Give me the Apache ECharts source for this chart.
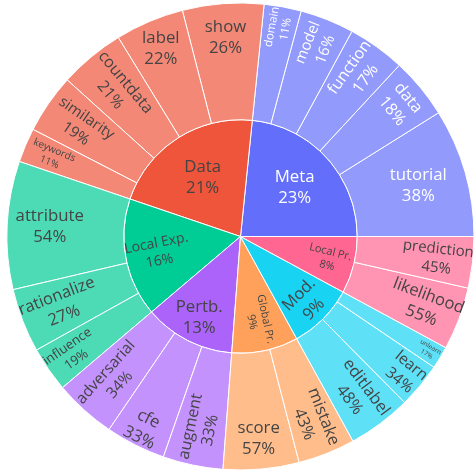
<!DOCTYPE html>
<html><head><meta charset="utf-8">
<script src="https://cdn.jsdelivr.net/npm/echarts@6/dist/echarts.min.js"></script>
<style>html,body{margin:0;padding:0;background:#fff}#c{width:474px;height:472px}</style>
</head><body><div id="c"></div>
<script>
// ---- data (values in % of the whole) ----
const groups = ['Meta', 'Data', 'Local Exp.', 'Pertb.', 'Global Pr.', 'Mod.', 'Local Pr.'];
const metaNames = ['tutorial', 'data', 'function', 'model', 'domain'];
const metaValues = [8.89, 4.21, 3.98, 3.74, 2.57];
const dataNames = ['show', 'label', 'countdata', 'similarity', 'keywords'];
const dataValues = [5.62, 4.76, 4.54, 4.11, 2.38];
const localExpNames = ['attribute', 'rationalize', 'influence'];
const localExpValues = [8.86, 4.43, 3.12];
const pertbNames = ['adversarial', 'cfe', 'augment'];
const pertbValues = [4.28, 4.16, 4.16];
const globalPrNames = ['score', 'mistake'];
const globalPrValues = [5.24, 3.96];
const modNames = ['editlabel', 'learn', 'unlearn'];
const modValues = [4.41, 3.13, 1.56];
const localPrNames = ['likelihood', 'prediction'];
const localPrValues = [4.35, 3.55];

const childNames = [metaNames, dataNames, localExpNames, pertbNames, globalPrNames, modNames, localPrNames];
const childValues = [metaValues, dataValues, localExpValues, pertbValues, globalPrValues, modValues, localPrValues];

// ---- styles ----
const baseColors = ['#636EFA', '#EF553B', '#00CC96', '#AB63FA', '#FFA15A', '#19D3F3', '#FF6692'];
const leafColors = ['#929AFC', '#F48876', '#4DDBB6', '#C492FC', '#FFBD8C', '#5EE0F7', '#FF94B3'];
const textColors = ['#ffffff', '#444444', '#444444', '#444444', '#444444', '#444444', '#444444'];
// s: font size, o: orientation (h horizontal, r radial, t tangential), R: label radius
const labelStyle = {
  'Meta': {s: 16.8, o: 'h', R: 73}, 'Data': {s: 16.8, o: 'h', R: 70}, 'Local Exp.': {s: 14, o: 'r', R: 84},
  'Pertb.': {s: 16.8, o: 'h', R: 91}, 'Global Pr.': {s: 11, o: 'r', R: 86}, 'Mod.': {s: 16.5, o: 't', R: 93},
  'Local Pr.': {s: 11, o: 'r', R: 91},
  'tutorial': {s: 16.8, o: 'h', R: 185}, 'data': {s: 16.5, o: 't', R: 207}, 'function': {s: 16, o: 'r', R: 201},
  'model': {s: 15, o: 'r', R: 205}, 'domain': {s: 11.5, o: 'r', R: 212},
  'show': {s: 16.8, o: 'h', R: 199}, 'label': {s: 16.8, o: 'h', R: 204}, 'countdata': {s: 16, o: 'r', R: 192},
  'similarity': {s: 15, o: 'r', R: 194}, 'keywords': {s: 10, o: 'r', R: 205},
  'attribute': {s: 16.8, o: 'h', R: 191}, 'rationalize': {s: 16.5, o: 'r', R: 193}, 'influence': {s: 13, o: 'r', R: 205},
  'adversarial': {s: 15.5, o: 'r', R: 191}, 'cfe': {s: 16.8, o: 't', R: 215}, 'augment': {s: 16, o: 'r', R: 196},
  'score': {s: 16.8, o: 'h', R: 203}, 'mistake': {s: 16.5, o: 'r', R: 198},
  'editlabel': {s: 16.5, o: 'r', R: 196}, 'learn': {s: 15.5, o: 'r', R: 214}, 'unlearn': {s: 6.5, o: 'r', R: 220},
  'likelihood': {s: 16.5, o: 'r', R: 197}, 'prediction': {s: 15, o: 'r', R: 198}
};

const CX = 240.5, CY = 236.5, R1 = 116.75, R2 = 233.5;

function norm(a) { a = a % (2 * Math.PI); if (a < 0) a += 2 * Math.PI; return a; }
function flip(a) { return a > Math.PI / 2 + 1e-6 && a < Math.PI * 1.5; }

function makeLabel(name, theta, rDef, color) {
  const st = labelStyle[name];
  let rot = 0;
  if (st.o === 'r') { rot = norm(-theta); if (flip(norm(theta))) rot += Math.PI; }
  else if (st.o === 't') { const a = norm(Math.PI / 2 - theta); rot = a; if (flip(a)) rot += Math.PI; }
  rot = norm(rot);
  const d = st.R - rDef;
  const sx = d * Math.cos(theta), sy = d * Math.sin(theta);
  const lx = sx * Math.cos(rot) - sy * Math.sin(rot);
  const ly = sx * Math.sin(rot) + sy * Math.cos(rot);
  const lh = Math.round(st.s * 1.25);
  const H = 2 * lh;
  return {
    rotate: rot * 180 / Math.PI, fontSize: st.s, lineHeight: lh, color: color,
    fontFamily: 'Open Sans', verticalAlign: 'top', align: 'center',
    textBorderWidth: 0,
    padding: [ly - H / 2, Math.max(0, -2 * lx), 0, Math.max(0, 2 * lx)]
  };
}

let total = 0;
childValues.forEach(a => a.forEach(v => total += v));

const seriesData = [];
let cum = 0;
groups.forEach((g, gi) => {
  const vals = childValues[gi];
  const gsum = vals.reduce((a, b) => a + b, 0);
  const gTheta = -(cum + gsum / 2) / total * 2 * Math.PI;
  const children = [];
  let c2 = cum;
  vals.forEach((v, ci) => {
    const th = -(c2 + v / 2) / total * 2 * Math.PI;
    children.push({
      name: childNames[gi][ci], value: v,
      itemStyle: {color: leafColors[gi]},
      label: makeLabel(childNames[gi][ci], th, (R1 + R2) / 2, textColors[gi])
    });
    c2 += v;
  });
  seriesData.push({
    name: g, itemStyle: {color: baseColors[gi]},
    label: makeLabel(g, gTheta, R1 / 2, textColors[gi]),
    children: children
  });
  cum += gsum;
});

const chart = echarts.init(document.getElementById('c'), null, {renderer: 'canvas'});
chart.setOption({
  animation: false,
  series: [{
    type: 'sunburst',
    center: [CX, CY],
    radius: [0, R2],
    startAngle: 0,
    clockwise: false,
    sort: null,
    nodeClick: false,
    emphasis: {disabled: true},
    itemStyle: {borderColor: '#ffffff', borderWidth: 1},
    label: {
      formatter: function (p) {
        const path = p.treePathInfo;
        const parent = path[path.length - 2];
        return p.name + '\n' + Math.round(p.value / parent.value * 100) + '%';
      }
    },
    levels: [{}, {r0: 0, r: R1}, {r0: R1, r: R2}],
    data: seriesData
  }]
});
</script>
</body></html>
